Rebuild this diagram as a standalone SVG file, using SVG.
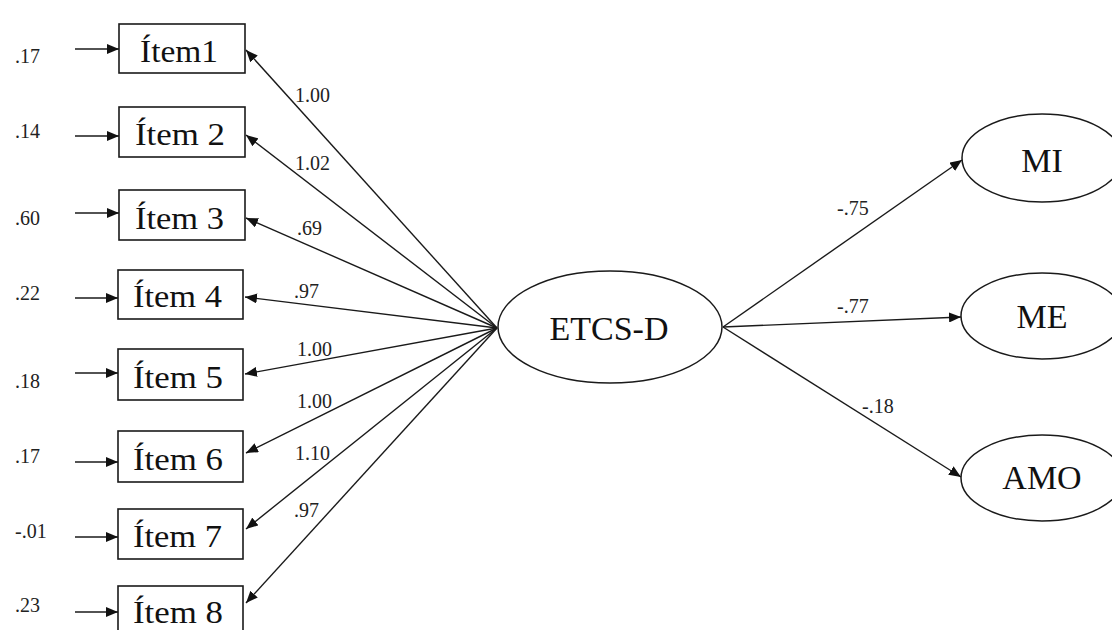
<svg xmlns="http://www.w3.org/2000/svg" width="1112" height="630" viewBox="0 0 1112 630">
  <style>
    .box { fill: #ffffff; stroke: #1a1a1a; stroke-width: 1.6; }
    .oval { fill: #ffffff; stroke: #1a1a1a; stroke-width: 1.5; }
    .edge { fill: none; stroke: #1a1a1a; stroke-width: 1.4; marker-end: url(#head); }
    .name { font-family: "Liberation Serif", "Times New Roman", serif; font-size: 31px; fill: #111111; }
    .big { font-family: "Liberation Serif", "Times New Roman", serif; font-size: 34px; fill: #111111; text-anchor: middle; }
    .coef { font-family: "Liberation Serif", "Times New Roman", serif; font-size: 20px; fill: #222222; }
  </style>
  <defs>
    <marker id="head" markerUnits="userSpaceOnUse" markerWidth="13" markerHeight="10" refX="12" refY="5" orient="auto">
      <path d="M0,0 L12,5 L0,10 z" fill="#111111"/>
    </marker>
  </defs>

  <rect width="1112" height="630" fill="#ffffff"/>

  <!-- connectors -->
  <g id="connectors">
    <!-- error terms -->
    <line class="edge" x1="75" y1="49" x2="119" y2="49"/>
    <line class="edge" x1="75" y1="136" x2="119" y2="136"/>
    <line class="edge" x1="75" y1="213" x2="119" y2="213"/>
    <line class="edge" x1="75" y1="298" x2="118" y2="298"/>
    <line class="edge" x1="75" y1="373" x2="118" y2="373"/>
    <line class="edge" x1="75" y1="462" x2="118" y2="462"/>
    <line class="edge" x1="75" y1="537" x2="118" y2="537"/>
    <line class="edge" x1="75" y1="612" x2="118" y2="612"/>
    <!-- loadings of the items -->
    <line class="edge" x1="497" y1="328" x2="246" y2="50"/>
    <line class="edge" x1="497" y1="328" x2="246" y2="135"/>
    <line class="edge" x1="497" y1="328" x2="246" y2="218"/>
    <line class="edge" x1="497" y1="328" x2="245" y2="297"/>
    <line class="edge" x1="497" y1="328" x2="245" y2="374"/>
    <line class="edge" x1="497" y1="328" x2="246" y2="453"/>
    <line class="edge" x1="497" y1="328" x2="246" y2="529"/>
    <line class="edge" x1="497" y1="328" x2="246" y2="603"/>
    <!-- paths to the outcome factors -->
    <line class="edge" x1="723" y1="327" x2="962" y2="160"/>
    <line class="edge" x1="723" y1="327" x2="961" y2="317"/>
    <line class="edge" x1="723" y1="327" x2="961" y2="477"/>

    <!-- coefficients -->
    <text class="coef" x="15" y="63">.17</text>
    <text class="coef" x="15" y="138">.14</text>
    <text class="coef" x="15" y="225">.60</text>
    <text class="coef" x="15" y="300">.22</text>
    <text class="coef" x="15" y="388">.18</text>
    <text class="coef" x="15" y="463">.17</text>
    <text class="coef" x="15" y="538">-.01</text>
    <text class="coef" x="15" y="612">.23</text>

    <text class="coef" x="295" y="102">1.00</text>
    <text class="coef" x="295" y="170">1.02</text>
    <text class="coef" x="297" y="235">.69</text>
    <text class="coef" x="294" y="298">.97</text>
    <text class="coef" x="297" y="356">1.00</text>
    <text class="coef" x="297" y="408">1.00</text>
    <text class="coef" x="295" y="460">1.10</text>
    <text class="coef" x="294" y="517">.97</text>

    <text class="coef" x="837" y="215">-.75</text>
    <text class="coef" x="837" y="313">-.77</text>
    <text class="coef" x="862" y="413">-.18</text>
  </g>

  <!-- observed items -->
  <g id="item1"><rect class="box" x="119" y="24" width="126" height="49"/><text class="name" x="140" y="62" textLength="78" lengthAdjust="spacingAndGlyphs">Ítem1</text></g>
  <g id="item2"><rect class="box" x="119" y="107" width="126" height="50"/><text class="name" x="135" y="145" textLength="90" lengthAdjust="spacingAndGlyphs">Ítem 2</text></g>
  <g id="item3"><rect class="box" x="119" y="190" width="126" height="50"/><text class="name" x="135" y="229" textLength="89" lengthAdjust="spacingAndGlyphs">Ítem 3</text></g>
  <g id="item4"><rect class="box" x="118" y="270" width="125" height="49"/><text class="name" x="133" y="307" textLength="89" lengthAdjust="spacingAndGlyphs">Ítem 4</text></g>
  <g id="item5"><rect class="box" x="118" y="349" width="125" height="51"/><text class="name" x="133" y="388" textLength="90" lengthAdjust="spacingAndGlyphs">Ítem 5</text></g>
  <g id="item6"><rect class="box" x="118" y="431" width="125" height="51"/><text class="name" x="133" y="470" textLength="90" lengthAdjust="spacingAndGlyphs">Ítem 6</text></g>
  <g id="item7"><rect class="box" x="118" y="509" width="125" height="50"/><text class="name" x="133" y="547" textLength="89" lengthAdjust="spacingAndGlyphs">Ítem 7</text></g>
  <g id="item8"><rect class="box" x="118" y="586" width="125" height="50"/><text class="name" x="133" y="623" textLength="90" lengthAdjust="spacingAndGlyphs">Ítem 8</text></g>

  <!-- latent factors -->
  <g id="etcs-d"><ellipse class="oval" cx="610" cy="327" rx="112" ry="56"/><text class="big" x="609" y="340">ETCS-D</text></g>
  <g id="mi"><ellipse class="oval" cx="1042" cy="158" rx="80" ry="44"/><text class="big" x="1042" y="172">MI</text></g>
  <g id="me"><ellipse class="oval" cx="1042" cy="316" rx="81" ry="43"/><text class="big" x="1042" y="328">ME</text></g>
  <g id="amo"><ellipse class="oval" cx="1042" cy="478" rx="81" ry="43"/><text class="big" x="1042" y="489">AMO</text></g>
</svg>
